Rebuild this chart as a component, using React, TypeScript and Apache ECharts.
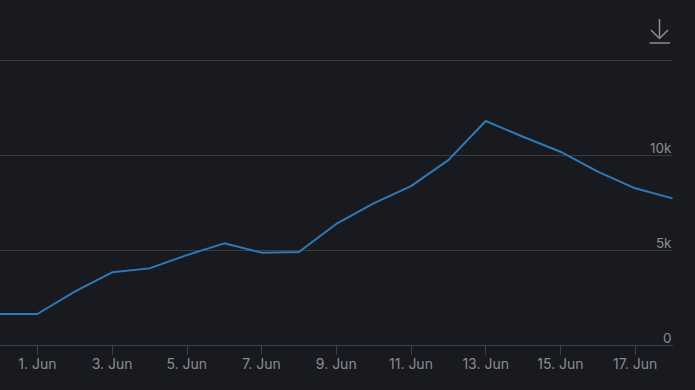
import React, { useEffect, useRef } from "react";
import * as echarts from "echarts";

const categories = [
  "31. May", "1. Jun", "2. Jun", "3. Jun", "4. Jun", "5. Jun", "6. Jun", "7. Jun", "8. Jun", "9. Jun",
  "10. Jun", "11. Jun", "12. Jun", "13. Jun", "14. Jun", "15. Jun", "16. Jun", "17. Jun", "18. Jun",
];
const values = [
  1630, 1635, 2810, 3830, 4040, 4740, 5360, 4870, 4900, 6380,
  7470, 8380, 9750, 11810, 10980, 10190, 9140, 8260, 7730,
];
const yTicks = [0, 5000, 10000, 15000];

export default function App() {
  const ref = useRef<HTMLDivElement>(null);
  useEffect(() => {
    if (!ref.current) return;
    const chart = echarts.init(ref.current, null, { renderer: "svg" });
    const labelColor = "#8a8c91";
    chart.setOption({
      animation: false,
      backgroundColor: "#181a20",
      textStyle: { fontFamily: "Inter, Roboto, sans-serif" },
      grid: { left: -2.5, right: 22.5, top: 60.5, bottom: 45, containLabel: false },
      xAxis: {
        type: "category",
        data: categories,
        boundaryGap: false,
        axisLine: { show: true, lineStyle: { color: "#3b414d", width: 1 } },
        axisTick: {
          show: true,
          length: 10,
          interval: (i: number) => i % 2 === 1,
          lineStyle: { color: "#3b414d" },
        },
        axisLabel: {
          interval: (i: number) => i % 2 === 1,
          color: labelColor,
          fontSize: 14,
          margin: 11,
        },
        splitLine: { show: false },
      },
      yAxis: {
        type: "value",
        position: "right",
        min: yTicks[0],
        max: yTicks[yTicks.length - 1],
        interval: 5000,
        axisLine: { show: false },
        axisTick: { show: false },
        splitLine: { lineStyle: { color: "#3a3c42", width: 1 } },
        axisLabel: {
          inside: true,
          margin: 1,
          color: labelColor,
          fontSize: 13.5,
          verticalAlign: "bottom",
          showMaxLabel: false,
          formatter: (v: number) => (v === 0 ? "0" : v / 1000 + "k"),
        },
      },
      series: [
        {
          type: "line",
          data: values,
          showSymbol: false,
          symbol: "none",
          clip: true,
          lineStyle: { color: "#2e7ab8", width: 2 },
          itemStyle: { color: "#2e7ab8" },
        },
      ],
      graphic: [
        {
          type: "line",
          shape: { x1: 659.5, y1: 19, x2: 659.5, y2: 38 },
          style: { stroke: labelColor, lineWidth: 1.5 },
        },
        {
          type: "polyline",
          shape: { points: [[651, 30], [659.5, 38.5], [668, 30]] },
          style: { stroke: labelColor, lineWidth: 1.5, fill: null },
        },
        {
          type: "line",
          shape: { x1: 649.5, y1: 43, x2: 670, y2: 43 },
          style: { stroke: labelColor, lineWidth: 1.5 },
        },
      ],
    });
    return () => chart.dispose();
  }, []);
  return (
    <div
      ref={ref}
      style={{ position: "fixed", left: 0, top: 0, width: 695, height: 390 }}
    />
  );
}
